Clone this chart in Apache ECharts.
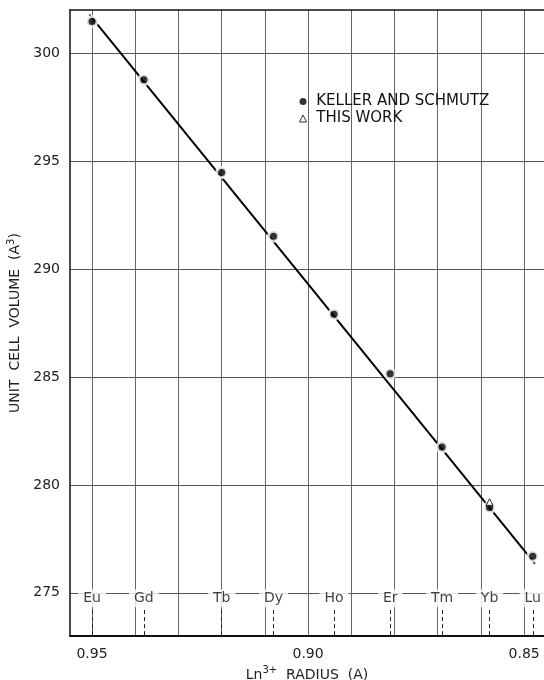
<!DOCTYPE html>
<html>
<head>
<meta charset="utf-8">
<script src="https://cdn.jsdelivr.net/npm/echarts@6/dist/echarts.min.js"></script>
<style>html,body{margin:0;padding:0;background:#fff}#c{width:544px;height:680px}</style>
</head>
<body>
<div id="c"></div>
<script>
// ---- data ----
const elements = ['Eu', 'Gd', 'Tb', 'Dy', 'Ho', 'Er', 'Tm', 'Yb', 'Lu'];
const radii = [0.950, 0.938, 0.920, 0.908, 0.894, 0.881, 0.869, 0.858, 0.848];
const kellerVolume = [301.47, 298.77, 294.47, 291.52, 287.91, 285.15, 281.75, 278.95, 276.69];
const thisWorkRadius = [0.858];
const thisWorkVolume = [279.2];
const fitRadius = [0.9506, 0.8475];
const fitVolume = [301.79, 276.35];
const xGridValues = [0.85, 0.86, 0.87, 0.88, 0.89, 0.90, 0.91, 0.92, 0.93, 0.94, 0.95];
const xLabelValues = [0.85, 0.90, 0.95];
const yTickValues = [275, 280, 285, 290, 295, 300];

const FONT = 'DejaVu Sans';
const labelLevel = 274.75;
const tickTop = 274.2;
const yMin = 273, yMax = 302;
const xMin = 0.8454, xMax = 0.9551;

const nameRich = {
  n: {fontSize: 14, color: '#222', fontFamily: FONT},
  s: {fontSize: 10, color: '#222', fontFamily: FONT, padding: [0, 0, 8, 0]}
};

const chart = echarts.init(document.getElementById('c'), null, {renderer: 'canvas'});
const option = {
  animation: false,
  backgroundColor: '#fff',
  textStyle: {fontFamily: FONT},
  grid: {left: 70, top: 10, right: 0, bottom: 44, containLabel: false, outerBoundsMode: 'none'},
  legend: {
    data: [
      {name: 'KELLER AND SCHMUTZ', icon: 'circle', itemStyle: {color: '#000', borderWidth: 0}},
      {name: 'THIS WORK', icon: 'triangle', itemStyle: {color: '#fff', borderColor: '#000', borderWidth: 1}}
    ],
    formatter: name => ' ' + name,
    orient: 'vertical',
    left: 294, top: 89,
    itemWidth: 7, itemHeight: 7, itemGap: 2,
    textStyle: {fontFamily: FONT, fontSize: 15, color: '#111'},
    selectedMode: false
  },
  xAxis: [{
    type: 'value', inverse: true, min: xMin, max: xMax, position: 'bottom',
    axisLine: {show: true, onZero: false, lineStyle: {color: '#111', width: 2}},
    axisTick: {show: false, customValues: xGridValues},
    axisLabel: {customValues: xLabelValues, formatter: v => v.toFixed(2), fontSize: 14, color: '#222', margin: 11, fontFamily: FONT},
    splitLine: {show: true, lineStyle: {color: '#666', width: 1}},
    name: '{n|Ln}{s|3+}{n|  RADIUS  (A)}', nameLocation: 'middle', nameGap: 26,
    nameTextStyle: {fontSize: 14, color: '#222', fontFamily: FONT, rich: nameRich}
  }, {
    type: 'value', inverse: true, min: xMin, max: xMax, position: 'top',
    axisLine: {show: true, onZero: false, lineStyle: {color: '#111', width: 1.5}},
    axisTick: {show: false}, axisLabel: {show: false}, splitLine: {show: false}
  }],
  yAxis: {
    type: 'value', min: yMin, max: yMax,
    axisLine: {show: true, onZero: false, lineStyle: {color: '#111', width: 1.5}},
    axisTick: {show: false, customValues: yTickValues},
    axisLabel: {customValues: yTickValues, fontSize: 14, color: '#222', margin: 10, fontFamily: FONT},
    splitLine: {show: true, lineStyle: {color: '#555', width: 1}},
    name: '{n|UNIT  CELL  VOLUME  (A}{s|3}{n|)}', nameLocation: 'middle', nameGap: 43,
    nameTextStyle: {fontSize: 14, color: '#222', fontFamily: FONT, rich: nameRich}
  },
  series: [
    {
      type: 'line', name: 'fit', silent: true, z: 2,
      data: fitRadius.map((r, i) => [r, fitVolume[i]]),
      symbol: 'none', lineStyle: {color: '#000', width: 2}
    },
    {
      type: 'scatter', name: 'KELLER AND SCHMUTZ', z: 3,
      data: radii.map((r, i) => [r, kellerVolume[i]]),
      symbol: 'circle', symbolSize: 10,
      itemStyle: {color: '#000', borderColor: '#fff', borderWidth: 3}
    },
    {
      type: 'scatter', name: 'THIS WORK', z: 4,
      data: thisWorkRadius.map((r, i) => [r, thisWorkVolume[i]]),
      symbol: 'triangle', symbolSize: 7,
      itemStyle: {color: '#fff', borderColor: '#000', borderWidth: 1}
    },
    {
      type: 'scatter', name: 'elements', silent: true, z: 5,
      data: radii.map((r, i) => ({value: [r, labelLevel], name: elements[i]})),
      symbolSize: 0,
      label: {
        show: true, position: 'inside', formatter: p => p.name,
        fontSize: 14, color: '#111', fontFamily: FONT,
        backgroundColor: '#fff', padding: [4, 5, 0, 5]
      },
      markLine: {
        silent: true, symbol: 'none', label: {show: false},
        lineStyle: {color: '#222', width: 1, type: [4, 3]},
        data: radii.map(r => [{coord: [r, tickTop]}, {coord: [r, yMin]}])
      }
    }
  ]
};
chart.setOption(option);
</script>
</body>
</html>
